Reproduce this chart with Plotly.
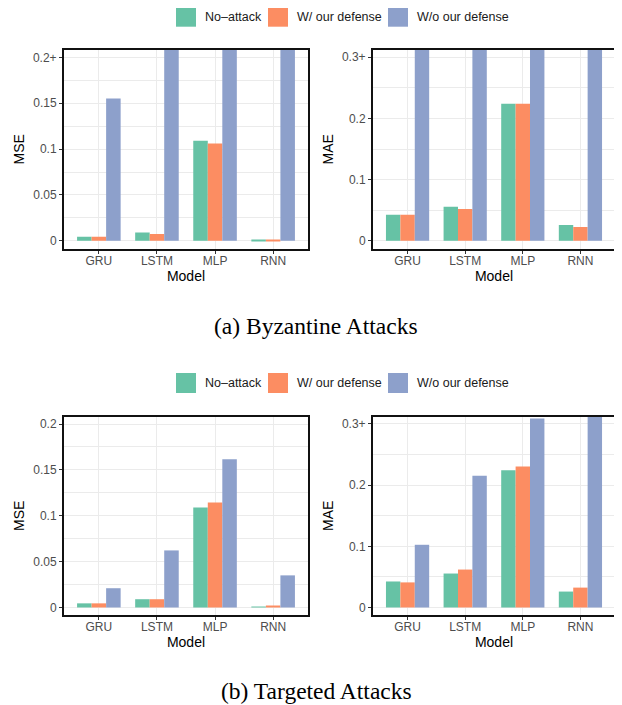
import plotly.graph_objects as go

models = ["GRU", "LSTM", "MLP", "RNN"]
series = ["No–attack", "W/ our defense", "W/o our defense"]
colors = ["#66C2A5", "#FC8D62", "#8DA0CB"]

# Byzantine attacks (values above the cap are drawn at the cap: "0.2+" / "0.3+")
byz_mse_noattack = [0.0045, 0.009, 0.109, 0.001]
byz_mse_w_def = [0.0045, 0.0075, 0.106, 0.001]
byz_mse_wo_def = [0.155, 0.21, 0.21, 0.21]

byz_mae_noattack = [0.0425, 0.0555, 0.224, 0.026]
byz_mae_w_def = [0.0425, 0.052, 0.224, 0.0225]
byz_mae_wo_def = [0.315, 0.315, 0.315, 0.315]

# Targeted attacks
tgt_mse_noattack = [0.0045, 0.009, 0.109, 0.001]
tgt_mse_w_def = [0.0045, 0.009, 0.1145, 0.002]
tgt_mse_wo_def = [0.021, 0.0622, 0.1615, 0.035]

tgt_mae_noattack = [0.0425, 0.0555, 0.2245, 0.026]
tgt_mae_w_def = [0.041, 0.062, 0.2305, 0.0325]
tgt_mae_wo_def = [0.1025, 0.2155, 0.309, 0.315]

mse_ticks = [0, 0.05, 0.1, 0.15, 0.2]
mse_ticktext_top = ["0", "0.05", "0.1", "0.15", "0.2+"]
mse_ticktext_bot = ["0", "0.05", "0.1", "0.15", "0.2"]
mae_ticks = [0, 0.1, 0.2, 0.3]
mae_ticktext = ["0", "0.1", "0.2", "0.3+"]

captions = ["(a) Byzantine Attacks", "(b) Targeted Attacks"]

# the page body has an 8px margin, so the figure starts 8px in from the window corner
OFF = 8
W, H = 622 - OFF, 705 - OFF
FONT = "Liberation Sans, Arial, sans-serif"
SERIF = "Liberation Serif, Times New Roman, serif"

fig = go.Figure()

panels = [
    ("x", "y", [byz_mse_noattack, byz_mse_w_def, byz_mse_wo_def]),
    ("x2", "y2", [byz_mae_noattack, byz_mae_w_def, byz_mae_wo_def]),
    ("x3", "y3", [tgt_mse_noattack, tgt_mse_w_def, tgt_mse_wo_def]),
    ("x4", "y4", [tgt_mae_noattack, tgt_mae_w_def, tgt_mae_wo_def]),
]

for xa, ya, data in panels:
    for name, col, vals in zip(series, colors, data):
        fig.add_trace(go.Bar(
            x=models, y=vals, name=name, marker=dict(color=col, line=dict(width=0)),
            xaxis=xa, yaxis=ya, showlegend=False, offsetgroup=name,
        ))

def fx(px):
    return (px - OFF) / W

def fy(py):
    return 1 - (py - OFF) / H

def px_x(a, b):
    return [fx(a), fx(b)]

def px_y(top, bottom):
    return [fy(bottom), fy(top)]

grid_col = "#EBEBEB"

def xaxis_cfg(domain, anchor):
    return dict(
        domain=domain, anchor=anchor, type="category", categoryorder="array",
        categoryarray=models, range=[-0.6, 3.6], automargin=False,
        showgrid=True, gridcolor=grid_col, gridwidth=1.2,
        showline=True, mirror=True, linecolor="#111111", linewidth=2,
        ticks="outside", ticklen=3, tickcolor="#333333", tickwidth=1,
        ticklabelstandoff=-3,
        tickfont=dict(size=12, color="#4D4D4D", family=FONT),
        title=dict(text="Model", font=dict(size=14, color="black", family=FONT), standoff=0),
        zeroline=False, fixedrange=True,
    )

def yaxis_cfg(domain, anchor, rng, tickvals, ticktext, title, minor_dtick):
    return dict(
        domain=domain, anchor=anchor, range=rng, automargin=False,
        tickmode="array", tickvals=tickvals, ticktext=ticktext,
        showgrid=True, gridcolor=grid_col, gridwidth=1.2,
        minor=dict(showgrid=True, gridcolor=grid_col, gridwidth=0.8, dtick=minor_dtick, tick0=0),
        showline=True, mirror=True, linecolor="#111111", linewidth=2,
        ticks="outside", ticklen=3, tickcolor="#333333", tickwidth=1,
        tickfont=dict(size=12, color="#4D4D4D", family=FONT),
        title=dict(text=title, font=dict(size=14, color="black", family=FONT), standoff=5),
        zeroline=False, fixedrange=True,
    )

# custom legend (20px colour squares like the reference)
shapes = []
annotations = []
box_x = [176, 268, 388]
text_x = [203, 295, 415]
for row_y in (16.7, 383):
    for bx, tx, name, col in zip(box_x, text_x, series, colors):
        shapes.append(dict(type="rect", xref="paper", yref="paper",
                           x0=fx(bx), x1=fx(bx + 20),
                           y0=fy(row_y + 10), y1=fy(row_y - 10),
                           fillcolor=col, line=dict(width=0)))
        annotations.append(dict(text=name, x=fx(tx), y=fy(row_y), xref="paper", yref="paper",
                                xanchor="left", yanchor="middle", showarrow=False,
                                font=dict(size=12.5, color="#1a1a1a", family=FONT)))

for cap, cy in zip(captions, (326, 691)):
    annotations.append(dict(text=cap, x=fx(316), y=fy(cy), xref="paper", yref="paper",
                            xanchor="center", yanchor="middle", showarrow=False,
                            font=dict(family=SERIF, size=23.5, color="black")))

fig.update_layout(
    width=W, height=H,
    margin=dict(l=0, r=0, t=0, b=0, autoexpand=False),
    paper_bgcolor="white", plot_bgcolor="white",
    barmode="group", bargap=0.25, bargroupgap=0,
    font=dict(family=FONT, color="black"),
    showlegend=False,
    xaxis=xaxis_cfg(px_x(64, 308), "y"),
    xaxis2=xaxis_cfg(px_x(373, 615), "y2"),
    xaxis3=xaxis_cfg(px_x(64, 308), "y3"),
    xaxis4=xaxis_cfg(px_x(373, 615), "y4"),
    yaxis=yaxis_cfg(px_y(49.5, 249), "x", [-0.0089, 0.2085], mse_ticks, mse_ticktext_top, "MSE", 0.025),
    yaxis2=yaxis_cfg(px_y(49.5, 249), "x2", [-0.0134, 0.3127], mae_ticks, mae_ticktext, "MAE", 0.05),
    yaxis3=yaxis_cfg(px_y(416.5, 615), "x3", [-0.0082, 0.2082], mse_ticks, mse_ticktext_bot, "MSE", 0.025),
    yaxis4=yaxis_cfg(px_y(416.5, 615), "x4", [-0.0123, 0.3122], mae_ticks, mae_ticktext, "MAE", 0.05),
    shapes=shapes,
    annotations=annotations,
)

fig.write_html("out.html")
